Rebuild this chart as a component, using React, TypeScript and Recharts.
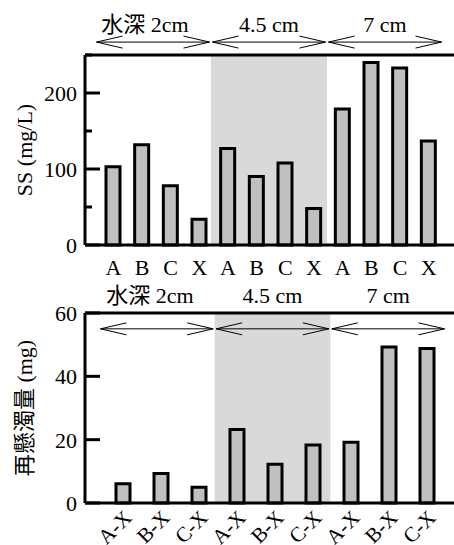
import {
  BarChart,
  Bar,
  XAxis,
  YAxis,
  ReferenceLine,
  ReferenceArea
} from "recharts";

const FONT = "'Liberation Serif', 'Noto Sans CJK JP', serif";

// depth groups shown above both panels
const depthLabels = ["水深 2cm", "4.5 cm", "7 cm"];

// upper panel: SS per channel
const ssCategories = ["A", "B", "C", "X", "A", "B", "C", "X", "A", "B", "C", "X"];
const ssValues = [103, 132, 78, 34, 127, 90, 108, 48, 179, 240, 233, 137];
const ssTicks = [0, 50, 100, 150, 200, 250];
const ssLabelled = [0, 100, 200];

// lower panel: resuspended amount
const resCategories = ["A-X", "B-X", "C-X", "A-X", "B-X", "C-X", "A-X", "B-X", "C-X"];
const resValues = [6.1, 9.3, 5.0, 23.2, 12.2, 18.3, 19.2, 49.3, 48.8];
const resTicks = [0, 20, 40, 60];

// pos = slot centre, used by the hidden numeric axis for bands and arrows
const ssData = ssCategories.map((label, i) => ({ label, value: ssValues[i], pos: i + 0.5 }));
const resData = resCategories.map((label, i) => ({ label, value: resValues[i], pos: i + 0.5 }));

const BAR_FILL = "#c0c0c0";
const BAND_FILL = "#d9d9d9";

const YTick = ({ x, y, payload, labelled, minor }: any) => {
  const v = payload.value;
  const isMajor = labelled.includes(v);
  const len = isMajor ? 15 : minor ? 7 : 0;
  return (
    <g>
      {len > 0 && <line x1={x} x2={x + len} y1={y} y2={y} stroke="#000" strokeWidth={3} />}
      {isMajor && (
        <text x={x - 8} y={y + 8} textAnchor="end" fontSize={22} style={{ fontFamily: FONT }} fill="#000">
          {v}
        </text>
      )}
    </g>
  );
};

const LetterTick = ({ x, y, payload }: any) => (
  <text x={x} y={y + 30} textAnchor="middle" fontSize={22} style={{ fontFamily: FONT }} fill="#000">
    {payload.value}
  </text>
);

const RotTick = ({ x, y, payload }: any) => {
  const tx = x + 10;
  const ty = y + 16;
  return (
    <text
      x={tx}
      y={ty}
      transform={`rotate(-45, ${tx}, ${ty})`}
      textAnchor="end"
      fontSize={21}
      style={{ fontFamily: FONT }}
      fill="#000"
    >
      {payload.value}
    </text>
  );
};

const YLabel = ({ viewBox, text }: any) => {
  const cx = 24;
  const cy = viewBox ? viewBox.y + viewBox.height / 2 : 150;
  return (
    <text
      x={cx}
      y={cy + 8}
      transform={`rotate(-90, ${cx}, ${cy})`}
      textAnchor="middle"
      fontSize={22}
      style={{ fontFamily: FONT }}
      fill="#000"
    >
      {text}
    </text>
  );
};

// double-headed open arrow with the group name above it
const makeArrow = (text: string, textDy: number, textDx: number) => (props: any) => {
  const { x1, x2, y1 } = props;
  const a = Math.min(x1, x2) + 1.5;
  const b = Math.max(x1, x2) - 1.5;
  const y = y1;
  return (
    <g>
      <line x1={a} x2={b} y1={y} y2={y} stroke="#000" strokeWidth={1} />
      <polyline points={`${a + 26},${y - 6} ${a},${y} ${a + 26},${y + 6}`} fill="none" stroke="#000" strokeWidth={1} />
      <polyline points={`${b - 26},${y - 6} ${b},${y} ${b - 26},${y + 6}`} fill="none" stroke="#000" strokeWidth={1} />
      <text x={(a + b) / 2 + textDx} y={y - textDy} textAnchor="middle" fontSize={22} style={{ fontFamily: FONT }} fill="#000">
        {text}
      </text>
    </g>
  );
};

const SS_ARROW_Y = 267;
const RES_ARROW_Y = 55;

export default function App() {
  return (
    <div style={{ position: "absolute", left: 0, top: 0, width: 454, height: 545, fontFamily: FONT }}>
      <div style={{ position: "absolute", left: 0, top: 0 }}>
        <BarChart width={454} height={290} data={ssData} margin={{ top: 55, right: 0, left: 0, bottom: 0 }}>
          <XAxis
            dataKey="label"
            height={45}
            interval={0}
            padding={{ left: 14, right: 11 }}
            axisLine={{ stroke: "#000", strokeWidth: 3 }}
            tickLine={false}
            tickSize={0}
            tickMargin={0}
            tick={<LetterTick />}
          />
          <XAxis xAxisId="n" dataKey="pos" type="number" domain={[0, 12]} allowDataOverflow hide padding={{ left: 10, right: 11 }} />
          <YAxis
            width={85}
            domain={[0, 250]}
            ticks={ssTicks}
            interval={0}
            axisLine={{ stroke: "#000", strokeWidth: 3 }}
            tickLine={false}
            tickSize={0}
            tickMargin={0}
            tick={<YTick labelled={ssLabelled} minor />}
            label={<YLabel text="SS (mg/L)" />}
          />
          <ReferenceArea xAxisId="n" x1={4} x2={8} fill={BAND_FILL} fillOpacity={1} stroke="none" ifOverflow="hidden" />
          <Bar dataKey="value" fill={BAR_FILL} stroke="#000" strokeWidth={3} barSize={14} isAnimationActive={false} />
          <ReferenceLine y={250} stroke="#000" strokeWidth={3} />
          {depthLabels.map((t, i) => (
            <ReferenceLine
              key={t}
              xAxisId="n"
              segment={[{ x: i * 4, y: SS_ARROW_Y }, { x: i * 4 + 4, y: SS_ARROW_Y }]}
              ifOverflow="visible"
              shape={makeArrow(t, 10, i === 0 ? -8 : 0)}
            />
          ))}
        </BarChart>
      </div>
      <div style={{ position: "absolute", left: 0, top: 275 }}>
        <BarChart width={454} height={270} data={resData} margin={{ top: 38, right: 0, left: 0, bottom: 0 }}>
          <XAxis
            dataKey="label"
            height={42}
            interval={0}
            padding={{ left: 19, right: 8 }}
            axisLine={{ stroke: "#000", strokeWidth: 3 }}
            tickLine={false}
            tickSize={0}
            tickMargin={0}
            tick={<RotTick />}
          />
          <XAxis xAxisId="n" dataKey="pos" type="number" domain={[0, 9]} allowDataOverflow hide padding={{ left: 14, right: 8 }} />
          <YAxis
            width={85}
            domain={[0, 60]}
            ticks={resTicks}
            interval={0}
            axisLine={{ stroke: "#000", strokeWidth: 3 }}
            tickLine={false}
            tickSize={0}
            tickMargin={0}
            tick={<YTick labelled={resTicks} />}
            label={<YLabel text="再懸濁量 (mg)" />}
          />
          <ReferenceArea xAxisId="n" x1={3} x2={6} fill={BAND_FILL} fillOpacity={1} stroke="none" ifOverflow="hidden" />
          <Bar dataKey="value" fill={BAR_FILL} stroke="#000" strokeWidth={3} barSize={14} isAnimationActive={false} />
          <ReferenceLine y={60} stroke="#000" strokeWidth={3} />
          {depthLabels.map((t, i) => (
            <ReferenceLine
              key={t}
              xAxisId="n"
              segment={[{ x: i * 3, y: RES_ARROW_Y }, { x: i * 3 + 3, y: RES_ARROW_Y }]}
              ifOverflow="visible"
              shape={makeArrow(t, 26, i === 0 ? -7 : 0)}
            />
          ))}
        </BarChart>
      </div>
    </div>
  );
}
